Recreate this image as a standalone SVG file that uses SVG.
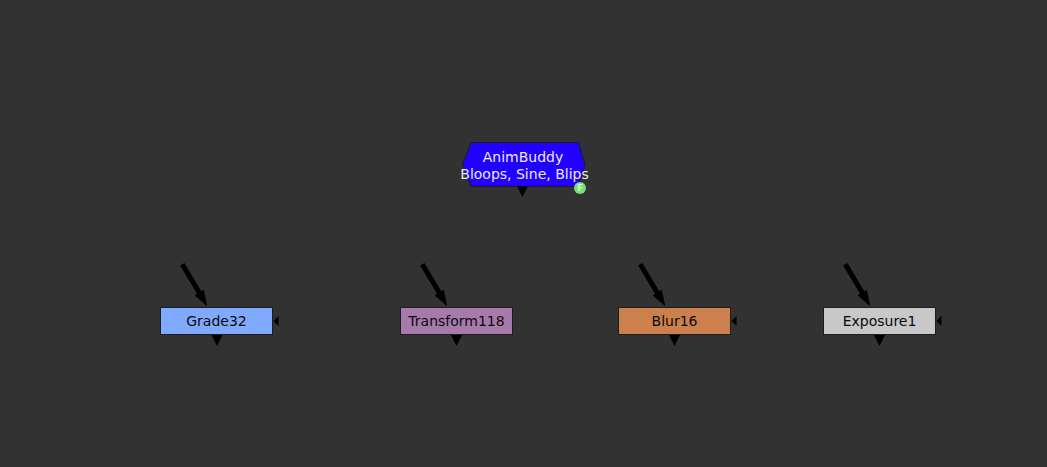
<svg xmlns="http://www.w3.org/2000/svg" width="1047" height="467" viewBox="0 0 1047 467">
<defs>
<style>
.box{stroke:#1c1c1c;stroke-width:1}
.lbl{font-family:"DejaVu Sans",sans-serif;font-size:14px;text-anchor:middle;fill:#0a0a0a}
.tri{fill:#000}
.in{stroke:#000;stroke-width:5;fill:none}
</style>
<marker id="ah" viewBox="0 0 16 11" refX="1" refY="5.5" markerWidth="16" markerHeight="11" markerUnits="userSpaceOnUse" orient="auto">
<path d="M0,0 L16,5.5 L0,11 z" fill="#000"/>
</marker>
</defs>
<rect width="1047" height="467" fill="#323232"/>
<g id="connectors">
<line class="in" x1="182.3" y1="264.3" x2="199.6" y2="293.3" marker-end="url(#ah)"/>
<line class="in" x1="422.3" y1="264.3" x2="439.6" y2="293.3" marker-end="url(#ah)"/>
<line class="in" x1="640.3" y1="264.3" x2="657.6" y2="293.3" marker-end="url(#ah)"/>
<line class="in" x1="845.3" y1="264.3" x2="862.6" y2="293.3" marker-end="url(#ah)"/>
</g>
<g id="AnimBuddy">
<polygon points="471,142.5 578.5,142.5 585,164.5 578.5,186.5 471,186.5 462.5,164.5" fill="#2200ff" stroke="#1c1c1c" stroke-width="1"/>
<text class="lbl" x="523" y="162" style="fill:#ece8ff">AnimBuddy</text>
<text class="lbl" x="524.5" y="178.5" style="fill:#ece8ff">Bloops, Sine, Blips</text>
<polygon class="tri" points="517,186 528,186 522.5,197"/>
<circle cx="580" cy="188" r="6" fill="#7bdc7b"/>
<text x="580.3" y="191" font-family="DejaVu Sans,sans-serif" font-size="8" font-weight="bold" fill="#d8ffd8" text-anchor="middle">F</text>
</g>
<g id="Grade32">
<rect class="box" x="160.5" y="307.5" width="112" height="27" fill="#80aaff"/>
<text class="lbl" x="216.5" y="326">Grade32</text>
<polygon class="tri" points="211.5,335 222.5,335 217,346"/>
<polygon class="tri" points="273.5,321 278.5,316 278.5,326"/>
</g>
<g id="Transform118">
<rect class="box" x="400.5" y="307.5" width="112" height="27" fill="#a67aab"/>
<text class="lbl" x="456.5" y="326">Transform118</text>
<polygon class="tri" points="451,335 462,335 456.5,346"/>
</g>
<g id="Blur16">
<rect class="box" x="618.5" y="307.5" width="112" height="27" fill="#cc804e"/>
<text class="lbl" x="674.5" y="326">Blur16</text>
<polygon class="tri" points="669,335 680,335 674.5,346"/>
<polygon class="tri" points="731.5,321 736.5,316 736.5,326"/>
</g>
<g id="Exposure1">
<rect class="box" x="823.5" y="307.5" width="112" height="27" fill="#c8c8c8"/>
<text class="lbl" x="879.5" y="326">Exposure1</text>
<polygon class="tri" points="874,335 885,335 879.5,346"/>
<polygon class="tri" points="936.5,321 941.5,316 941.5,326"/>
</g>
</svg>
